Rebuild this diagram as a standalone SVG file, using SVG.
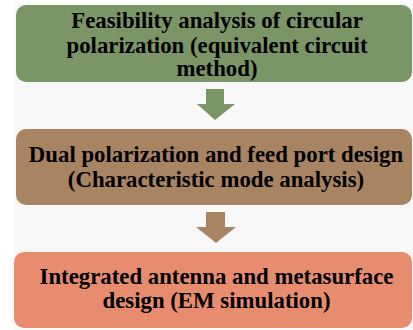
<svg xmlns="http://www.w3.org/2000/svg" width="413" height="330" viewBox="0 0 413 330">
<style>
.t{font-family:"Liberation Serif","Times New Roman",serif;font-weight:bold;font-size:22.8px;fill:#000;text-anchor:middle}
</style>
<rect x="0" y="0" width="413" height="330" fill="#ffffff"/>
<rect x="14" y="2" width="399" height="328" fill="#f8f8f8"/>
<g id="connectors">
<polygon points="206,89 224,89 224,104 235,104 215,120 197,104 206,104" fill="#7a9566"/>
<polygon points="206,212 225,212 225,227 236,227 216,243 196,227 206,227" fill="#a88463"/>
</g>
<g id="node1">
<rect x="16" y="5" width="396" height="77" rx="10" fill="#7a9566"/>
<text class="t" x="217" y="28">Feasibility analysis of circular</text>
<text class="t" x="217" y="53">polarization (equivalent circuit</text>
<text class="t" x="217" y="76">method)</text>
</g>
<g id="node2">
<rect x="16" y="129" width="396" height="76" rx="10" fill="#a88463"/>
<text class="t" x="216" y="162">Dual polarization and feed port design</text>
<text class="t" x="216" y="187">(Characteristic mode analysis)</text>
</g>
<g id="node3">
<rect x="14" y="252" width="398" height="76" rx="10" fill="#e88c70"/>
<text class="t" x="216.5" y="284">Integrated antenna and metasurface</text>
<text class="t" x="216.5" y="308">design (EM simulation)</text>
</g>
</svg>
